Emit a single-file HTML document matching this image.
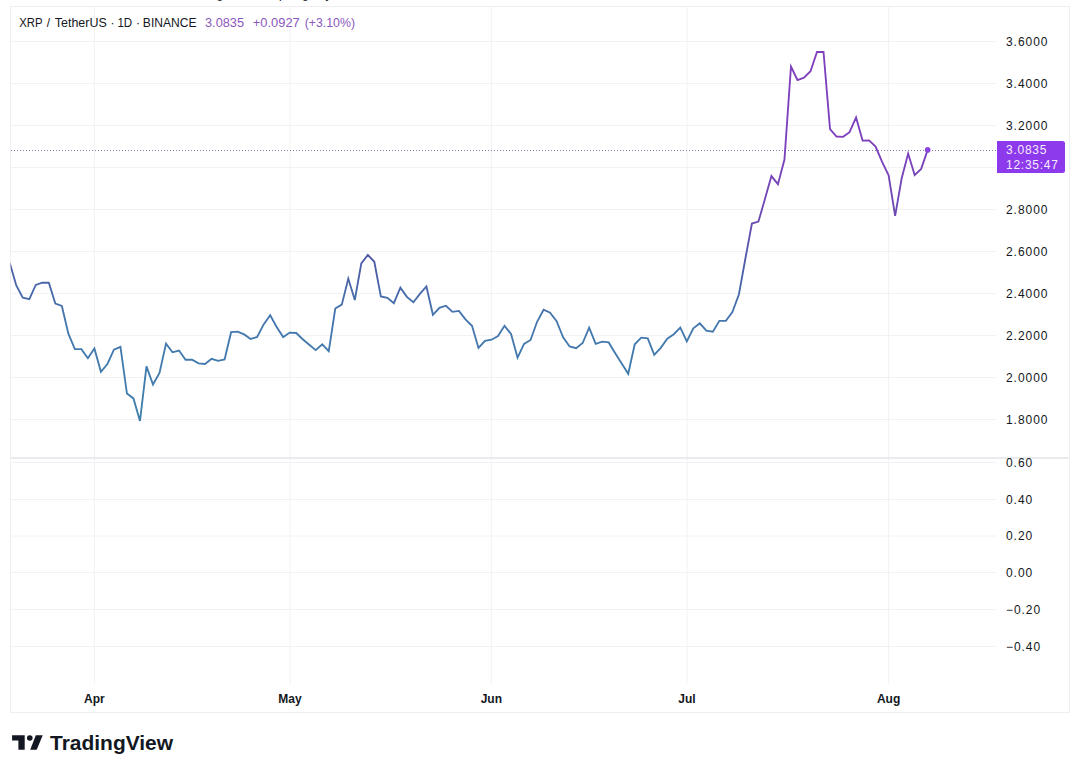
<!DOCTYPE html>
<html><head><meta charset="utf-8"><title>XRP / TetherUS</title>
<style>
html,body{margin:0;padding:0;background:#ffffff;}
body{width:1080px;height:770px;overflow:hidden;font-family:'Liberation Sans', Arial, sans-serif;}
svg{display:block;font-family:'Liberation Sans', Arial, sans-serif;}
</style></head><body>
<svg width="1080" height="770" viewBox="0 0 1080 770"><defs>
<linearGradient id="lg" gradientUnits="userSpaceOnUse" x1="0" y1="420" x2="0" y2="50">
<stop offset="0" stop-color="#3e7fab"/>
<stop offset="0.27" stop-color="#4577ae"/>
<stop offset="0.38" stop-color="#4a63a8"/>
<stop offset="0.46" stop-color="#5458aa"/>
<stop offset="0.53" stop-color="#6a4cb2"/>
<stop offset="0.73" stop-color="#7c40bc"/>
<stop offset="1" stop-color="#8040bc"/>
</linearGradient>
<clipPath id="cp"><rect x="10.5" y="6.5" width="985.5" height="450"/></clipPath>
</defs><path d="M10,41.5H996M10,83.5H996M10,125.5H996M10,167.5H996M10,209.5H996M10,251.5H996M10,293.5H996M10,335.5H996M10,377.5H996M10,419.5H996M10,462.5H996M10,499.5H996M10,536H996M10,572.5H996M10,609.5H996M10,646.5H996M94.4,6V457M94.4,459V684M290.0,6V457M290.0,459V684M491.3,6V457M491.3,459V684M687.0,6V457M687.0,459V684M888.6,6V457M888.6,459V684" stroke="#f2f2f4" stroke-width="1" fill="none"/><rect x="10" y="457" width="1060" height="2" fill="#ebebef"/><rect x="10.5" y="6.5" width="1059" height="706" fill="none" stroke="#efeff1" stroke-width="1"/><path d="M11,150.5H996" stroke="#85799e" stroke-width="1" stroke-dasharray="1 2" fill="none"/><g clip-path="url(#cp)"><path d="M9.77,263.00 L16.28,285.50 L22.79,297.60 L29.30,299.10 L35.81,284.90 L42.32,282.70 L48.83,282.70 L55.34,303.60 L61.85,306.00 L68.36,333.60 L74.87,349.10 L81.38,349.10 L87.89,358.20 L94.40,348.40 L100.91,371.80 L107.42,364.00 L113.93,349.70 L120.44,346.90 L126.95,393.60 L133.46,398.40 L139.97,421.00 L146.48,366.40 L152.99,384.50 L159.50,372.90 L166.01,343.60 L172.52,352.30 L179.03,350.50 L185.54,359.70 L192.05,359.70 L198.56,363.40 L205.07,364.00 L211.58,358.80 L218.09,360.80 L224.60,359.50 L231.11,332.20 L237.62,331.60 L244.13,334.40 L250.64,339.00 L257.15,337.00 L263.66,324.40 L270.17,315.30 L276.68,327.00 L283.19,337.10 L289.70,332.60 L296.21,333.00 L302.72,339.20 L309.23,344.70 L315.74,350.10 L322.25,344.30 L328.76,351.20 L335.27,308.50 L341.78,304.60 L348.29,278.60 L354.80,300.00 L361.31,263.40 L367.82,254.90 L374.33,261.80 L380.84,296.50 L387.35,297.80 L393.86,303.20 L400.37,287.70 L406.88,296.90 L413.39,302.30 L419.90,293.90 L426.41,286.50 L432.92,314.80 L439.43,307.90 L445.94,305.70 L452.45,311.80 L458.96,310.90 L465.47,319.40 L471.98,325.80 L478.49,347.90 L485.00,340.80 L491.51,339.70 L498.02,336.00 L504.53,325.80 L511.04,334.00 L517.55,357.70 L524.06,343.90 L530.57,340.00 L537.08,321.80 L543.59,309.70 L550.10,312.70 L556.61,321.20 L563.12,337.40 L569.63,346.50 L576.14,348.20 L582.65,343.00 L589.16,327.70 L595.67,343.90 L602.18,341.70 L608.69,342.40 L615.20,353.20 L621.71,363.60 L628.22,373.80 L634.73,344.30 L641.24,337.70 L647.75,338.30 L654.26,354.90 L660.77,347.80 L667.28,338.70 L673.79,334.20 L680.30,327.70 L686.81,341.30 L693.32,328.30 L699.83,323.30 L706.34,330.60 L712.85,331.70 L719.36,320.80 L725.87,320.80 L732.38,312.10 L738.89,294.50 L745.40,258.50 L751.91,223.50 L758.42,221.60 L764.93,199.10 L771.44,176.10 L777.95,184.20 L784.46,159.50 L790.97,66.60 L797.48,80.00 L803.99,77.70 L810.50,71.20 L817.01,52.00 L823.52,52.00 L830.03,129.00 L836.54,136.50 L843.05,136.80 L849.56,132.20 L856.07,117.40 L862.58,140.60 L869.09,140.40 L875.60,146.60 L882.11,161.90 L888.62,175.40 L895.13,215.90 L901.64,178.50 L908.15,153.60 L914.66,175.10 L921.17,168.90 L927.68,149.90" fill="none" stroke="url(#lg)" stroke-width="1.85" stroke-linejoin="miter" stroke-miterlimit="4" stroke-linecap="butt"/></g><circle cx="927.68" cy="149.90" r="2.8" fill="#8c45dc"/><text x="1006" y="45.7" font-size="12" fill="#131722" letter-spacing="0.95">3.6000</text><text x="1006" y="87.7" font-size="12" fill="#131722" letter-spacing="0.95">3.4000</text><text x="1006" y="129.7" font-size="12" fill="#131722" letter-spacing="0.95">3.2000</text><text x="1006" y="213.7" font-size="12" fill="#131722" letter-spacing="0.95">2.8000</text><text x="1006" y="255.7" font-size="12" fill="#131722" letter-spacing="0.95">2.6000</text><text x="1006" y="297.7" font-size="12" fill="#131722" letter-spacing="0.95">2.4000</text><text x="1006" y="339.7" font-size="12" fill="#131722" letter-spacing="0.95">2.2000</text><text x="1006" y="381.7" font-size="12" fill="#131722" letter-spacing="0.95">2.0000</text><text x="1006" y="423.7" font-size="12" fill="#131722" letter-spacing="0.95">1.8000</text><text x="1006" y="466.7" font-size="12" fill="#131722" letter-spacing="0.95">0.60</text><text x="1006" y="503.7" font-size="12" fill="#131722" letter-spacing="0.95">0.40</text><text x="1006" y="540.2" font-size="12" fill="#131722" letter-spacing="0.95">0.20</text><text x="1006" y="576.7" font-size="12" fill="#131722" letter-spacing="0.95">0.00</text><text x="1006" y="613.7" font-size="12" fill="#131722" letter-spacing="0.95">−0.20</text><text x="1006" y="650.7" font-size="12" fill="#131722" letter-spacing="0.95">−0.40</text><path d="M997,141H1062.5Q1065,141 1065,143.5V170.5Q1065,173 1062.5,173H997Z" fill="#8c3aeb"/><text x="1006" y="154.3" font-size="12" fill="#f6ecff" letter-spacing="0.75">3.0835</text><text x="1006" y="168.8" font-size="12" fill="#f6ecff" letter-spacing="0.75">12:35:47</text><text x="94.4" y="703" font-size="12" font-weight="bold" fill="#131722" text-anchor="middle">Apr</text><text x="290.0" y="703" font-size="12" font-weight="bold" fill="#131722" text-anchor="middle">May</text><text x="491.3" y="703" font-size="12" font-weight="bold" fill="#131722" text-anchor="middle">Jun</text><text x="687.0" y="703" font-size="12" font-weight="bold" fill="#131722" text-anchor="middle">Jul</text><text x="888.6" y="703" font-size="12" font-weight="bold" fill="#131722" text-anchor="middle">Aug</text><text x="19.20" y="26.6" font-size="12" fill="#131722" textLength="23.35" lengthAdjust="spacingAndGlyphs">XRP</text><text x="46.80" y="26.6" font-size="12" fill="#131722">/</text><text x="54.80" y="26.6" font-size="12" fill="#131722" textLength="51.93" lengthAdjust="spacingAndGlyphs">TetherUS</text><text x="110.50" y="26.6" font-size="12" fill="#131722">·</text><text x="117.44" y="26.6" font-size="12" fill="#131722" textLength="14.80" lengthAdjust="spacingAndGlyphs">1D</text><text x="136.00" y="26.6" font-size="12" fill="#131722">·</text><text x="142.89" y="26.6" font-size="12" fill="#131722" textLength="53.65" lengthAdjust="spacingAndGlyphs">BINANCE</text><text x="205.00" y="26.6" font-size="12" fill="#8b58bd" textLength="39.08" lengthAdjust="spacingAndGlyphs">3.0835</text><text x="252.80" y="26.6" font-size="12" fill="#8b58bd" textLength="46.97" lengthAdjust="spacingAndGlyphs">+0.0927</text><text x="304.70" y="26.6" font-size="12" fill="#8b58bd" textLength="50.33" lengthAdjust="spacingAndGlyphs">(+3.10%)</text><text y="-2.1" font-size="12" fill="#131722"><tspan x="216.5">g</tspan><tspan x="279.1">p</tspan><tspan x="302">g</tspan><tspan x="325.5">y</tspan></text><g fill="#131722"><path d="M12.1,735.2H24.7V749.8H18.4V740.6H12.1Z"/><circle cx="29.8" cy="738" r="2.8"/><path d="M35.8,735.2H42.7L36.7,749.8H30.2Z"/></g><text x="50.10" y="749.9" font-size="21" font-weight="bold" fill="#131722" textLength="122.93" lengthAdjust="spacingAndGlyphs">TradingView</text></svg>
</body></html>
